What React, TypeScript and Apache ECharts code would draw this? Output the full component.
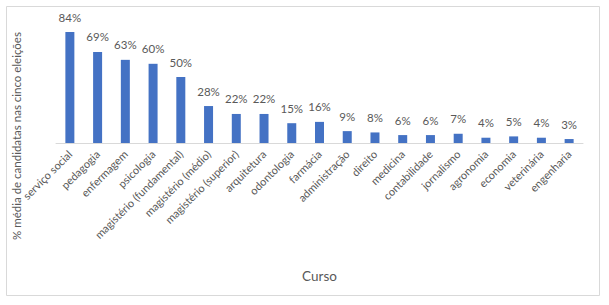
import React, { useEffect, useRef } from "react";
import * as echarts from "echarts";

const categories: string[] = [
  "serviço social",
  "pedagogia",
  "enfermagem",
  "psicologia",
  "magistério (fundamental)",
  "magistério (médio)",
  "magistério (superior)",
  "arquitetura",
  "odontologia",
  "farmácia",
  "administração",
  "direito",
  "medicina",
  "contabilidade",
  "jornalismo",
  "agronomia",
  "economia",
  "veterinária",
  "engenharia",
];

const values: number[] = [84, 69, 63, 60, 50, 28, 22, 22, 15, 16, 9, 8, 6, 6, 7, 4, 5, 4, 3];

const yTitle = "% média de candidatas nas cinco eleições";
const xTitle = "Curso";

const FONT = "Lato, 'Open Sans', sans-serif";

export default function App() {
  const ref = useRef<HTMLDivElement>(null);
  useEffect(() => {
    if (!ref.current) return;
    const chart = echarts.init(ref.current, undefined, { renderer: "svg" });
    chart.setOption({
      animation: false,
      backgroundColor: "#ffffff",
      grid: { left: 56, right: 26, top: 11, bottom: 162 },
      xAxis: {
        type: "category",
        data: categories,
        name: xTitle,
        nameLocation: "middle",
        nameGap: 126,
        nameTextStyle: { color: "#595959", fontSize: 13.5, fontFamily: FONT },
        axisLine: { lineStyle: { color: "#d9d9d9", width: 1 } },
        axisTick: { show: false },
        axisLabel: {
          interval: 0,
          rotate: 45,
          margin: 9,
          color: "#595959",
          fontSize: 11,
          fontFamily: FONT,
        },
      },
      yAxis: {
        type: "value",
        min: 0,
        max: 100,
        show: false,
      },
      graphic: [
        {
          type: "rect",
          shape: { x: 6.5, y: 6.5, width: 593, height: 289 },
          style: { fill: "none", stroke: "#d9d9d9", lineWidth: 1 },
          silent: true,
        },
        {
          type: "text",
          x: 16,
          y: 136,
          rotation: Math.PI / 2,
          style: {
            text: yTitle,
            fill: "#595959",
            fontSize: 11.5,
            fontFamily: FONT,
            align: "center",
            verticalAlign: "middle",
          },
        },
      ],
      series: [
        {
          type: "bar",
          data: values,
          barWidth: 9,
          itemStyle: { color: "#4472C4" },
          label: {
            show: true,
            position: "top",
            distance: 9,
            formatter: "{c}%",
            color: "#595959",
            fontSize: 11.5,
            fontFamily: FONT,
          },
        },
      ],
    });
    return () => chart.dispose();
  }, []);
  return (
    <div
      ref={ref}
      style={{ position: "absolute", left: 0, top: 0, width: 609, height: 305 }}
    />
  );
}
